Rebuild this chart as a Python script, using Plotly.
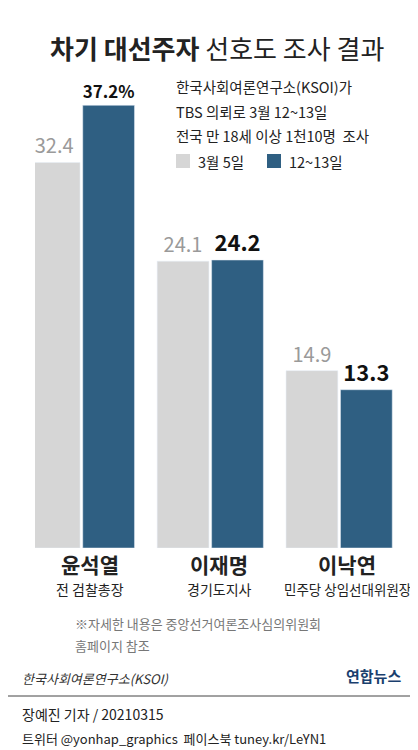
import plotly.graph_objects as go

names = ["윤석열", "이재명", "이낙연"]
roles = ["전 검찰총장", "경기도지사", "민주당 상임선대위원장"]
mar5 = [32.4, 24.1, 14.9]
mar12 = [37.2, 24.2, 13.3]
labels12 = ["37.2%", "24.2", "13.3"]
x = [0, 1, 2]

gray = "#d6d6d6"
blue = "#2f5f82"
font = "Noto Sans CJK KR"

fig = go.Figure()
fig.add_bar(x=x, y=mar5, name="3월 5일", marker_color=gray,
            text=[f"{v:.1f}" for v in mar5], textposition="outside",
            textfont=dict(size=20, color="#9a9a9a", family=font), cliponaxis=False)
fig.add_bar(x=x, y=mar12, name="12~13일", marker_color=blue,
            text=["<b>%s</b>" % t for t in labels12], textposition="outside",
            textfont=dict(size=22, color="#111111", family=font), cliponaxis=False)

fig.update_layout(
    width=418, height=750, barmode="group", bargap=0.155, bargroupgap=0.05,
    margin=dict(l=27, r=25, t=64, b=210),
    plot_bgcolor="white", paper_bgcolor="white", showlegend=False,
    font=dict(family=font),
    xaxis=dict(range=[-0.36, 2.48], visible=False),
    yaxis=dict(range=[0, 40], visible=False),
)


def P(xp, yp, text, size, color="#222", anchor="left"):
    # place text by pixel position of the 418x750 picture
    fig.add_annotation(x=(xp - 27) / 366, y=(540 - yp) / 476, xref="paper", yref="paper",
                       xanchor=anchor, yanchor="middle", showarrow=False,
                       text=text, font=dict(size=size, color=color, family=font))


def R(x0, x1, y0, y1, color):
    fig.add_shape(type="rect", xref="paper", yref="paper",
                  x0=(x0 - 27) / 366, x1=(x1 - 27) / 366,
                  y0=(540 - y1) / 476, y1=(540 - y0) / 476, fillcolor=color, line_width=0)


P(209, 40, "<b>차기 대선주자</b> 선호도 조사 결과", 26, anchor="center")
P(166, 78, "한국사회여론연구소(KSOI)가", 14.5)
P(166, 103, "TBS 의뢰로 3월 12~13일", 14.5)
P(166, 128, "전국 만 18세 이상 1천10명  조사", 14.5)
R(168, 182, 146, 160, gray)
P(188, 153, "3월 5일", 14.5)
R(259, 273, 146, 160, blue)
P(279, 153, "12~13일", 14.5)

centers = [82, 211, 339]
for c, n, r in zip(centers, names, roles):
    P(c, 556, "<b>%s</b>" % n, 21, anchor="center")
    P(c, 581, r, 14 if len(r) < 8 else 13.5, anchor="center")
P(65, 616, "※자세한 내용은 중앙선거여론조사심의위원회", 13, color="#777")
P(65, 637, "홈페이지 참조", 13, color="#777")
P(12, 670, "<i>한국사회여론연구소(KSOI)</i>", 13, color="#333")
P(395, 667, "<b>연합뉴스</b>", 15, color="#1a3f6e", anchor="right")
P(12, 706, "장예진 기자 / 20210315", 14, color="#222")
P(12, 730, "트위터 @yonhap_graphics  페이스북 tuney.kr/LeYN1", 13, color="#222")
fig.add_shape(type="line", xref="paper", yref="paper", x0=-27 / 366, x1=391 / 366,
              y0=-148 / 476, y1=-148 / 476, line=dict(color="#444", width=1))

fig.write_html("out.html")
